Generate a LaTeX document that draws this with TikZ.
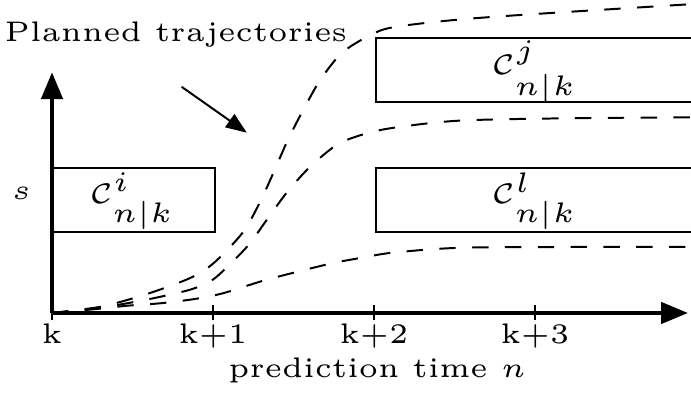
\documentclass[tikz,border=0pt]{standalone}
\usetikzlibrary{arrows.meta}
\begin{document}
\begin{tikzpicture}[
    lbl/.style={font=\fontsize{5}{6}\selectfont, scale=2.0},
    axis/.style={line width=1.4pt, -{Triangle[length=9.5pt,width=7.5pt]}},
    tick/.style={line width=0.6pt},
    region/.style={line width=0.7pt},
    traj/.style={line width=0.7pt, dash pattern=on 5.8pt off 5.8pt}
  ]
  \clip (-0.646,-0.994) rectangle (7.938,3.888);

  % Axes
  \coordinate (O) at (0,0);
  \coordinate (X) at (7.9,0);
  \coordinate (Y) at (0,2.99);
  \draw[axis] (O) -- (X);
  \draw[axis] (O) -- (Y);

  % Ticks
  \draw[tick] (0,0) -- (0,-0.09);
  \node[lbl, anchor=base] (t0) at (0,-0.38) {k};
  \foreach \i in {1,2,3} {
    \draw[tick] (2*\i,0.1) -- (2*\i,-0.09);
    \node[lbl, anchor=base] (t\i) at (2*\i,-0.38) {k+\i};
  }

  % Axis labels
  \node[lbl, anchor=base] (xlab) at (4.04,-0.8) {prediction time $n$};
  \node[lbl] (ylab) at (-0.38,1.48) {$s$};

  % Regions
  \draw[region] (0,1.0) rectangle (2.02,1.8);
  \draw[region] (8.5,3.42) -- (4.02,3.42) -- (4.02,2.62) -- (8.5,2.62);
  \draw[region] (8.5,1.8) -- (4.02,1.8) -- (4.02,1.0) -- (8.5,1.0);
  \node[lbl] (ci) at (1.0,1.39) {$\mathcal{C}^i_{n|k}$};
  \node[lbl] (cj) at (6.0,3.0) {$\mathcal{C}^j_{n|k}$};
  \node[lbl] (cl) at (6.0,1.39) {$\mathcal{C}^l_{n|k}$};

  % Trajectories
  \draw[traj] plot[smooth] coordinates {(0,0) (0.56,0.07) (0.93,0.16) (1.34,0.29)
    (1.75,0.45) (2.02,0.63) (2.37,1.0) (2.58,1.37) (2.75,1.74) (2.93,2.15)
    (3.12,2.52) (3.33,2.89) (3.6,3.23) (3.95,3.45) (4.24,3.55) (5.0,3.64)
    (5.94,3.71) (8,3.84)};
  \draw[traj] plot[smooth] coordinates {(0,0) (0.56,0.06) (0.93,0.12) (1.34,0.2)
    (1.75,0.3) (2.02,0.43) (2.42,0.82) (2.67,1.16) (2.92,1.5) (3.2,1.81)
    (3.54,2.09) (3.87,2.22) (4.24,2.3) (5.07,2.39) (6.5,2.42) (8,2.43)};
  \draw[traj] plot[smooth] coordinates {(0,0) (0.56,0.05) (0.93,0.09) (1.34,0.12)
    (1.75,0.17) (2.02,0.22) (2.21,0.27) (2.62,0.4) (3.04,0.51) (3.49,0.62)
    (3.87,0.69) (4.24,0.75) (5.07,0.81) (6.5,0.82) (8,0.82)};

  % Legend
  \node[lbl, anchor=base] (plan) at (1.54,3.37) {Planned trajectories};
  \coordinate (pa) at (1.61,2.81);
  \coordinate (pb) at (2.42,2.24);
  \draw[line width=0.7pt, -{Triangle[length=7.4pt,width=5.6pt]}] (pa) -- (pb);
\end{tikzpicture}
\end{document}
